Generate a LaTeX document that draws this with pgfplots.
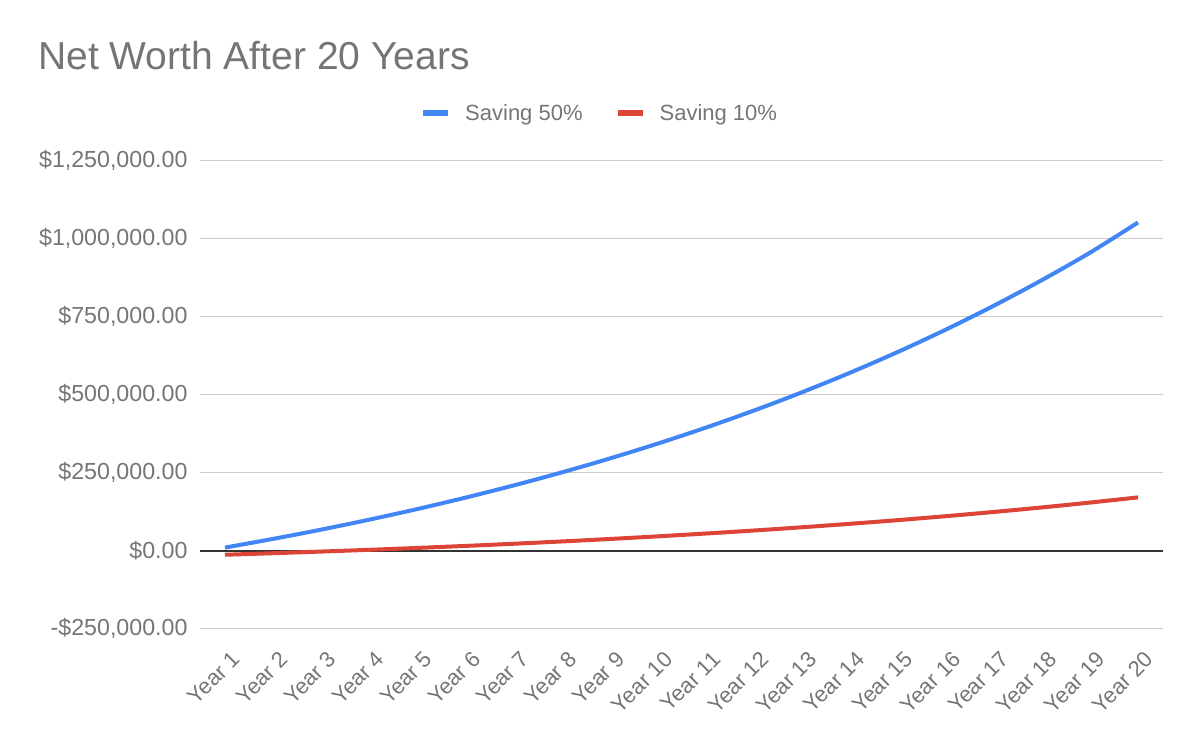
\documentclass[border=0pt]{standalone}
\usepackage{fontspec}
\setmainfont{Liberation Sans}
\usepackage{pgfplots}
\pgfplotsset{compat=1.18}
\definecolor{gblue}{HTML}{4285F4}
\definecolor{gred}{HTML}{DB4437}
\definecolor{txt}{HTML}{757575}
\definecolor{gridc}{HTML}{CCCCCC}

\pgfplotstableread{
year value
1 10000
2 37800
3 67550
4 99380
5 133440
6 169880
7 208870
8 250590
9 295230
10 343000
11 394110
12 448800
13 507310
14 569920
15 636910
16 708590
17 785290
18 867360
19 955180
20 1052000
}\savingfifty

\pgfplotstableread{
year value
1 -13000
2 -8080
3 -2820
4 2820
5 8840
6 15290
7 22190
8 29570
9 37470
10 45920
11 54970
12 64640
13 75000
14 86080
15 97930
16 110620
17 124190
18 138710
19 154250
20 170880
}\savingten

\begin{document}
\begin{tikzpicture}
\useasboundingbox (0pt,0pt) rectangle (1200pt,741pt);
\node[anchor=base west, text=txt, font=\fontsize{39}{44}\selectfont, inner sep=0pt] at (38pt,671pt) {Net Worth After 20 Years};
\begin{axis}[
  at={(200pt,112.3pt)}, anchor=south west,
  scale only axis, width=963pt, height=468pt,
  xmin=0.48, xmax=20.52, ymin=-250000, ymax=1250000,
  axis line style={draw=none},
  major tick length=0pt,
  scaled ticks=false,
  ymajorgrids, grid style={gridc, line width=1.4pt},
  ytick={-250000,0,250000,500000,750000,1000000,1250000},
  yticklabels={{-\$250,000.00},{\$0.00},{\$250,000.00},{\$500,000.00},{\$750,000.00},{\$1,000,000.00},{\$1,250,000.00}},
  yticklabel style={text=txt, font=\fontsize{23.2}{27}\selectfont, anchor=east, xshift=-9pt},
  xtick={1,...,20},
  xticklabels={Year 1,Year 2,Year 3,Year 4,Year 5,Year 6,Year 7,Year 8,Year 9,Year 10,Year 11,Year 12,Year 13,Year 14,Year 15,Year 16,Year 17,Year 18,Year 19,Year 20},
  xticklabel style={text=txt, font=\fontsize{22}{26}\selectfont, rotate=45, anchor=north east, inner sep=2pt, xshift=-9pt, yshift=-17pt},
  extra y ticks={0}, extra y tick labels={},
  extra y tick style={grid style={black!80, line width=2pt}},
  legend columns=2,
  legend style={at={(0.415,1.102)}, anchor=center, draw=none, fill=none,
    font=\fontsize{22}{26}\selectfont, text=txt,
    /tikz/every odd column/.append style={column sep=12pt},
    /tikz/every even column/.append style={column sep=30pt}},
  legend image code/.code={\draw[line width=6pt,#1] (0pt,0pt) -- (25pt,0pt);},
]
\addplot[gblue, line width=4pt, smooth, no markers] table[x=year,y=value] {\savingfifty};
\addlegendentry{Saving 50\%}
\addplot[gred, line width=4pt, smooth, no markers] table[x=year,y=value] {\savingten};
\addlegendentry{Saving 10\%}
\end{axis}
\end{tikzpicture}
\end{document}
